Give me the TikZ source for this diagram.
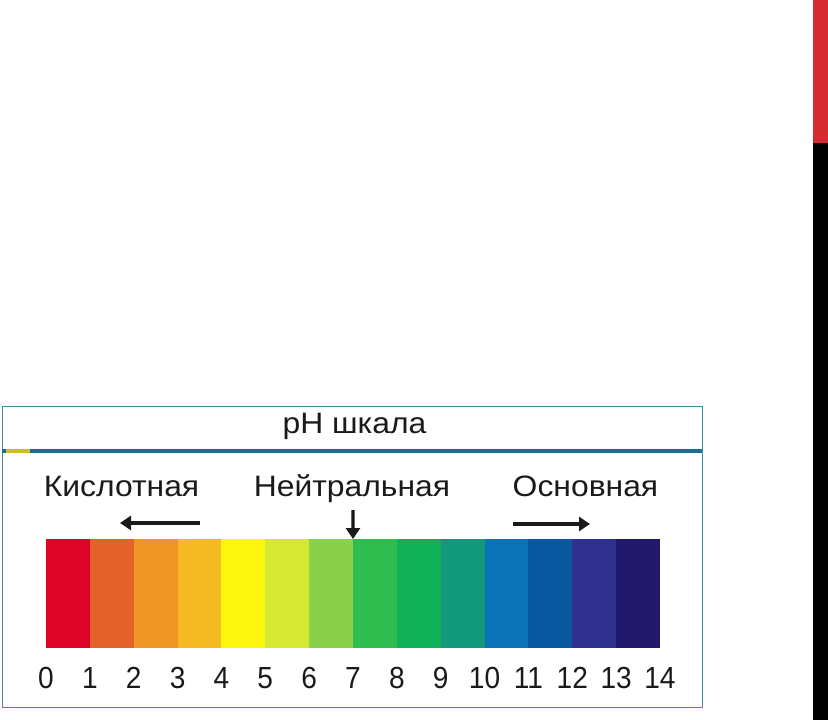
\documentclass[tikz,border=0pt]{standalone}
\usepackage{fontspec}
\setmainfont{Liberation Sans}
\newfontfamily\widefont[FakeStretch=1.08]{Liberation Sans}
\newfontfamily\numfont[FakeStretch=0.92]{Liberation Sans}
\usetikzlibrary{arrows.meta}
\definecolor{c0}{HTML}{DC0528}
\definecolor{c1}{HTML}{E4612A}
\definecolor{c2}{HTML}{EE9626}
\definecolor{c3}{HTML}{F5B922}
\definecolor{c4}{HTML}{FCF60C}
\definecolor{c5}{HTML}{D5E833}
\definecolor{c6}{HTML}{8BD04B}
\definecolor{c7}{HTML}{2EBD4E}
\definecolor{c8}{HTML}{10B257}
\definecolor{c9}{HTML}{12997C}
\definecolor{c10}{HTML}{0B74B9}
\definecolor{c11}{HTML}{08579F}
\definecolor{c12}{HTML}{30308F}
\definecolor{c13}{HTML}{22196D}
\definecolor{frameblue}{HTML}{3E8CB0}
\definecolor{lineblue}{HTML}{1A6E93}
\definecolor{sidered}{HTML}{D52A31}
\definecolor{ink}{HTML}{1A1A1A}
\tikzset{
  lbl/.style={font=\widefont\fontsize{29.5}{32}\selectfont, text=ink, inner sep=0pt, anchor=base},
  num/.style={font=\numfont\fontsize{30.5}{32}\selectfont, text=ink, inner sep=0pt, anchor=base},
  arr/.style={line width=3.3pt, -{Triangle[length=11pt,width=14pt]}, ink}
}
\begin{document}
\begin{tikzpicture}[x=1pt,y=-1pt]
\useasboundingbox (0,0) rectangle (828,720);
\fill[white] (0,0) rectangle (828,720);
% right side bars
\fill[sidered] (813,0) rectangle (828,143);
\fill[black] (813,143) rectangle (828,720);
% frame
\draw[frameblue, line width=1pt] (2,406) rectangle (702,707);
\fill[lineblue] (2,448.5) rectangle (702,453);
\fill[yellow!70!orange, opacity=0.8] (6,448.5) rectangle (30,453);
\node[lbl] (title) at (354.5,433) {pH шкала};
% labels
\node[lbl] (acid) at (121.5,496) {Кислотная};
\node[lbl] (neut) at (352,496) {Нейтральная};
\node[lbl] (base) at (585.5,496) {Основная};
% colour bar
\foreach \i in {0,...,13} {
  \fill[c\i] ({46+\i*43.857},539) rectangle ({46+(\i+1)*43.857+0.3},648);
}
\foreach \i in {0,...,14} {
  \coordinate (t\i) at ({46+\i*43.857},539);
  \node[num] (n\i) at ({46+\i*43.857},688) {\i};
}
% arrows
\coordinate (aS) at (200,523);
\coordinate (aE) at (120,523);
\draw[arr] (aS) -- (aE);
\coordinate (nS) at (353,510);
\draw[arr] (nS) -- (t7);
\coordinate (bS) at (513,524);
\coordinate (bE) at (590,524);
\draw[arr] (bS) -- (bE);
\end{tikzpicture}
\end{document}
